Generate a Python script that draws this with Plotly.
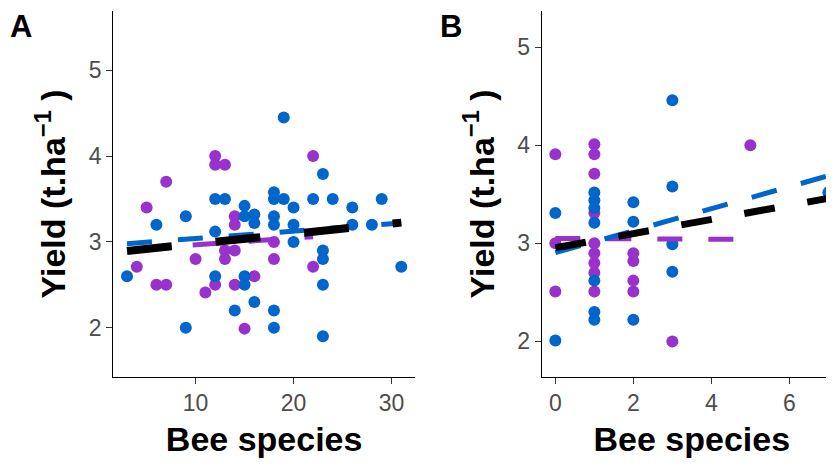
import plotly.graph_objects as go

# ---------------- Panel A data ----------------
a_blue_x = [3, 6, 9, 9, 12, 13, 12, 12, 15, 15, 16, 16, 15, 15, 16, 14, 18, 18, 19, 19,
            18, 18, 18, 18, 20, 20, 20, 22, 23, 23, 23, 23, 23, 24, 26, 26, 28, 29, 31]
a_blue_y = [2.6, 3.2, 3.3, 2.0, 3.5, 3.5, 3.12, 2.6, 3.42, 3.3, 3.32, 3.22, 2.6, 2.5, 2.3, 2.2, 3.58, 3.5, 3.5, 4.45,
            3.3, 3.2, 2.2, 2.0, 3.4, 3.2, 3.0, 3.5, 3.79, 2.9, 2.8, 2.5, 1.9, 3.5, 3.4, 3.2, 3.2, 3.5, 2.71]
a_purple_x = [4, 5, 6, 7, 7, 10, 11, 12, 12, 13, 12, 13, 13, 14, 14, 14, 14, 15, 16, 18, 18, 22, 22]
a_purple_y = [2.71, 3.4, 2.5, 2.5, 3.7, 2.8, 2.41, 4.0, 3.9, 3.9, 2.5, 2.9, 2.8, 3.3, 3.2, 2.9, 2.5, 1.99, 2.6,
              3.0, 2.8, 4.0, 2.71]
a_fit_all_x = [3, 31]
a_fit_all_y = [2.895, 3.225]
a_fit_blue_x = [3, 31]
a_fit_blue_y = [2.98, 3.22]
a_fit_purple_x = [4, 22]
a_fit_purple_y = [2.92, 3.06]

# ---------------- Panel B data ----------------
b_blue_x = [0, 0, 1, 1, 1, 1, 1, 1, 1, 2, 2, 2, 3, 3, 3, 3, 7]
b_blue_y = [3.31, 2.01, 3.52, 3.44, 3.36, 3.21, 2.62, 2.3, 2.22, 3.42, 3.22, 2.22, 4.46, 3.58, 2.99, 2.71, 3.52]
b_purple_x = [0, 0, 0, 1, 1, 1, 1, 1, 1, 1, 1, 1, 2, 2, 2, 2, 3, 5]
b_purple_y = [3.91, 3.0, 2.51, 4.01, 3.91, 3.71, 3.31, 3.0, 2.9, 2.8, 2.7, 2.51, 2.9, 2.82, 2.62, 2.51, 2.0, 4.0]
b_fit_all_x = [0, 7]
b_fit_all_y = [2.955, 3.46]
b_fit_blue_x = [0, 7]
b_fit_blue_y = [2.905, 3.69]
b_fit_purple_x = [0, 5]
b_fit_purple_y = [3.05, 3.04]

a_xticks = [10, 20, 30]
b_xticks = [0, 2, 4, 6]
y_ticks = [2, 3, 4, 5]

BLUE = "#0066CC"
PURPLE = "#9932CC"
FONT = "Liberation Sans, Arial, sans-serif"

W, H = 834, 466
OFF = 8  # page body margin offset

fig = go.Figure()

def add_panel(xa, ya, bx, by, px, py, fits):
    fig.add_trace(go.Scatter(x=px, y=py, mode="markers", xaxis=xa, yaxis=ya,
                             marker=dict(color=PURPLE, size=12), showlegend=False))
    fig.add_trace(go.Scatter(x=bx, y=by, mode="markers", xaxis=xa, yaxis=ya,
                             marker=dict(color=BLUE, size=12), showlegend=False))
    for fx, fy, col, wd, dash in fits:
        fig.add_trace(go.Scatter(x=fx, y=fy, mode="lines", xaxis=xa, yaxis=ya,
                                 line=dict(color=col, width=wd, dash=dash), showlegend=False))

add_panel("x", "y", a_blue_x, a_blue_y, a_purple_x, a_purple_y, [
    (a_fit_purple_x, a_fit_purple_y, PURPLE, 5, "29px,27px"),
    (a_fit_blue_x, a_fit_blue_y, BLUE, 5, "25px,26px"),
    (a_fit_all_x, a_fit_all_y, "black", 8, "45px,44px"),
])
add_panel("x2", "y2", b_blue_x, b_blue_y, b_purple_x, b_purple_y, [
    (b_fit_purple_x, b_fit_purple_y, PURPLE, 5, "25px,26px"),
    (b_fit_blue_x, b_fit_blue_y, BLUE, 5, "26px,25px"),
    (b_fit_all_x, b_fit_all_y, "black", 7, "31px,33px"),
])

tickfont = dict(family=FONT, size=23, color="#4D4D4D")
titlefont = dict(family=FONT, size=34, color="black")
axis_common = dict(showline=True, linecolor="black", linewidth=1.3, mirror=False,
                   ticks="outside", ticklen=6, tickwidth=1.2, tickcolor="#333333",
                   showgrid=False, zeroline=False, tickfont=tickfont, automargin=False)

ydom = [1 - (376.7 - OFF) / H, 1 - (11 - OFF) / H]

fig.update_layout(
    width=W, height=H,
    margin=dict(l=0, r=0, t=0, b=0, autoexpand=False),
    paper_bgcolor="white", plot_bgcolor="white",
    xaxis=dict(domain=[(113.3 - OFF) / W, (415 - OFF) / W], range=[1.6, 32.4], tickvals=a_xticks,
               title=dict(text="<b>Bee species</b>", font=titlefont, standoff=11), anchor="y", **axis_common),
    yaxis=dict(domain=ydom, range=[1.43, 5.69], tickvals=y_ticks,
               title=dict(text="<b>Yield (t.ha<sup>\u22121</sup> )</b>", font=titlefont, standoff=12), anchor="x", **axis_common),
    xaxis2=dict(domain=[(541.7 - OFF) / W, 1.0], range=[-0.35, 7.35], tickvals=b_xticks,
                title=dict(text="<b>Bee species</b>", font=titlefont, standoff=11), anchor="y2", **axis_common),
    yaxis2=dict(domain=ydom, range=[1.64, 5.37], tickvals=y_ticks,
                title=dict(text="<b>Yield (t.ha<sup>\u22121</sup> )</b>", font=titlefont, standoff=12), anchor="x2", **axis_common),
    annotations=[
        dict(text="<b>A</b>", x=1 / W, y=1.0, xref="paper", yref="paper", borderpad=0,
             xanchor="left", yanchor="top", showarrow=False, font=dict(family=FONT, size=31, color="black")),
        dict(text="<b>B</b>", x=431 / W, y=1.0, xref="paper", yref="paper", borderpad=0,
             xanchor="left", yanchor="top", showarrow=False, font=dict(family=FONT, size=31, color="black")),
    ],
)

fig.write_html("out.html")
